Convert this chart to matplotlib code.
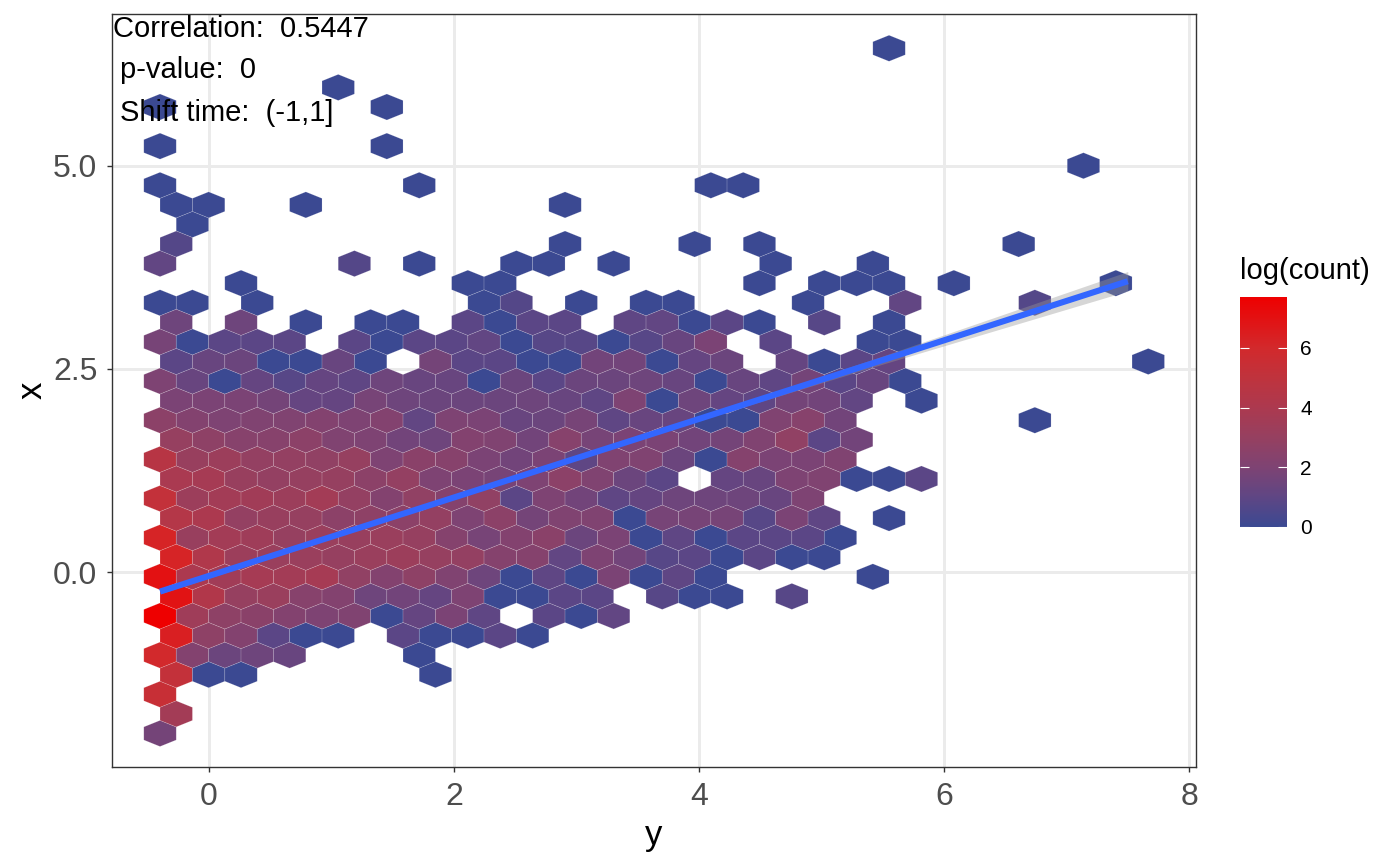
import numpy as np
import matplotlib
matplotlib.use("Agg")
import matplotlib.pyplot as plt
from matplotlib.colors import LinearSegmentedColormap, Normalize
from matplotlib.cm import ScalarMappable

plt.rcParams['font.family'] = ['Liberation Sans', 'DejaVu Sans']

_ = None
# log(count) per hexagon: one list per hex row from the bottom, one entry per hex column
log_count_rows = [
    [1.7],
    [3.6],
    [5.4],
    [5.2, 0, 0, _, _, _, _, _, 0],
    [6, 2.2, 1.4, 1.5, 1.3, _, _, _, 0],
    [6.4, 2.7, 2.2, .9, 0, 0, _, .9, 0, 0, .9, 0],
    [7.7, 3.4, 2.7, 2.5, 2.2, 2, 2.1, 0, 1.2, 1.9, 1, _, .9, 0, 1.1],
    [6.9, 4.3, 3, 3.2, 2.4, 2.2, 1.5, 1.6, 1.2, 2, 0, 0, .9, .9, _, .8, 0, 0, _, .8],
    [7, 4, 3.5, 3.7, 3.6, 3.7, 2.8, 2.2, 2.7, 2.1, 1.5, 0, 1, 0, 1.9, 0, 1, 0, _, _, _, _, 0],
    [6.2, 4.2, 3.3, 3.2, 3.2, 3, 3.2, 3.3, 3, 2.9, 2.3, 2.3, 1.1, 2, 1.6, .8, .9, 0, .9, 0, 0],
    [6.2, 3.1, 3.6, 3.4, 3, 3.2, 3.1, 3.2, 3, 2.3, 1.8, 2.2, 2.5, 1.4, 1.9, 0, 1, 0, .9, .9, .9, 0],
    [4.4, 4, 2.9, 3.1, 3, 2.6, 2.7, 2.6, 2.9, 2, 2.6, 1.7, 2.1, 2.1, 0, 1.8, 1.8, 1.8, .8, 1.9, 1, _, 0],
    [5.2, 3.3, 3.6, 3.5, 3.3, 3.6, 2.9, 2.2, 2.8, 2.3, 2.8, .9, 2, 1.6, 1, 1.2, 1.5, 1.5, 1.5, 1.3, 2],
    [3.9, 3.7, 3.1, 2.9, 3, 3, 2.6, 2.9, 2, 1.9, 1.8, 2, 2.6, 2.1, 1.4, .9, _, 1.2, 1.3, 2, 2.1, 0, 0, .9],
    [4.6, 3.1, 3.3, 2.9, 2.9, 2.8, 3, 2, 2.5, 2.4, 1.9, 1.6, 1.9, 1, 2.1, 2.1, 1.4, 0, 2.3, 1.9, 1.9, 2.1],
    [3, 2.7, 2.4, 2.4, 2.6, 2.1, 2, 1.6, 1.5, 2.2, 2.1, 1.6, 2.4, 1.8, 1.9, 1.9, 1.6, 1.7, 2.1, 2.8, .9, 1.6],
    [2.6, 2.2, 2, 2.1, 2.1, 2.2, 2, 2.2, 1.1, 2, 1.9, 1.3, 1.4, 1.8, 1, 1.3, 1.3, 0, 0, 2.1, 2.4, 1.6, _, _, _, _, _, 0],
    [1.9, 1.9, 1.9, 1.7, 1.2, 1.2, 1.8, 1.5, 1.4, 1.4, 1.4, 1.5, 1.3, 1, 2, 0, 1.5, 1.2, 1, 1.7, 1.6, 1.1, _, 0],
    [2, 1.3, 0, 1.2, .8, 1.2, 1, 1.5, 1.3, 1.3, 0, 1.4, .9, 1.4, 1.4, 1.5, 1.3, 0, 1.3, 1, 1.7, .9, 1.3, 0],
    [.9, 1.3, 1.4, 0, 0, 1.3, 0, _, 1.7, .9, .9, 0, 0, 1.6, 1.6, 0, 1.2, 1.4, _, 1.2, 0, .9, 1.2, _, _, _, _, _, _, _, 0],
    [1.8, 0, .9, .9, .9, _, .9, 0, .9, .9, 1.1, 0, .8, .8, 0, .8, 1.3, 1.9, _, .9, _, _, 0, 0],
    [1.5, _, 1.5, _, 0, _, 0, 0, _, .9, 0, .9, .9, _, 1, 1.1, 0, .9, 0, _, .8, _, 0],
    [0, 0, _, 0, _, _, _, _, _, _, 0, .7, _, 0, _, 0, 0, _, _, _, 0, _, _, 1.1, _, _, _, .7],
    [_, _, 0, _, _, _, _, _, _, 0, 0, _, _, _, _, _, _, _, 0, _, 0, 0, 0, _, 0, _, _, _, _, 0],
    [1.1, _, _, _, _, _, .7, _, 0, _, _, 0, 0, _, 0, _, _, _, _, 0, _, _, 0],
    [.7, _, _, _, _, _, _, _, _, _, _, _, 0, _, _, _, 0, _, 0, _, _, _, _, _, _, _, 0],
    [_, 0],
    [0, 0, _, _, 0, _, _, _, _, _, _, _, 0],
    [0, _, _, _, _, _, _, _, 0, _, _, _, _, _, _, _, _, 0, 0],
    [_, _, _, _, _, _, _, _, _, _, _, _, _, _, _, _, _, _, _, _, _, _, _, _, _, _, _, _, 0],
    [0, _, _, _, _, _, _, 0],
    [],
    [0, _, _, _, _, _, _, 0],
    [_, _, _, _, _, 0],
    [],
    [_, _, _, _, _, _, _, _, _, _, _, _, _, _, _, _, _, _, _, _, _, _, 0],
]

# bin geometry
first_x, first_y = -0.40, -1.987
col_step, row_step = 0.2645, 0.241

# fitted line and its confidence half-width
fit_x = [-0.40, 1.0, 2.5, 4.0, 5.5, 7.5]
fit_y = [-0.24, 0.435, 1.16, 1.885, 2.61, 3.58]
fit_se = [0.03, 0.02, 0.015, 0.02, 0.05, 0.12]

xticks = [0, 2, 4, 6, 8]
yticks = [0, 2.5, 5]
yticklabels = ['0.0', '2.5', '5.0']
cbar_ticks = [0, 2, 4, 6]
annotations = ['Correlation:  0.5447', 'p-value:  0', 'Shift time:  (-1,1]']

cmap = LinearSegmentedColormap.from_list('logcount', [
    (0 / 7.7, '#3B4992'), (1 / 7.7, '#5F4684'), (2 / 7.7, '#7E4373'),
    (3 / 7.7, '#964060'), (4 / 7.7, '#AC394F'), (5 / 7.7, '#BF333D'),
    (6 / 7.7, '#D2292C'), (1.0, '#EE0000')])
norm = Normalize(0, 7.7)

fig = plt.figure(figsize=(14, 8.65), dpi=100)
W, H = 1400, 865
ax = fig.add_axes([112 / W, 1 - 767 / H, (1196 - 112) / W, (767 - 14) / H])

hx, hy, hc = [], [], []
for r, row in enumerate(log_count_rows):
    for c, v in enumerate(row):
        if v is None:
            continue
        hx.append(first_x + col_step * (c + 0.5 * (r % 2)))
        hy.append(first_y + row_step * r)
        hc.append(v)

nx, ny = 32, 19
ax.hexbin(hx, hy, C=hc, gridsize=(nx, ny), reduce_C_function=np.mean,
          extent=(first_x, first_x + nx * col_step, first_y, first_y + ny * 2 * row_step),
          cmap=cmap, norm=norm, linewidths=0.4, edgecolors=(1, 1, 1, 0.25), zorder=2)

fit_x, fit_y, fit_se = map(np.array, (fit_x, fit_y, fit_se))
ax.fill_between(fit_x, fit_y - fit_se, fit_y + fit_se, color='#999999', alpha=0.4, lw=0, zorder=3)
ax.plot(fit_x, fit_y, color='#3366FF', lw=4.4, solid_capstyle='butt', zorder=4)

ax.set_xlim(-0.792, 8.057)
ax.set_ylim(-2.40, 6.87)
ax.set_xticks(xticks)
ax.set_yticks(yticks)
ax.set_yticklabels(yticklabels)
ax.grid(True, color='#EBEBEB', lw=2.1, zorder=0)
ax.set_axisbelow(True)
ax.tick_params(axis='both', labelsize=23, labelcolor='#4D4D4D', color='#333333',
               length=3.5, width=1.0, pad=7)
for s in ax.spines.values():
    s.set_color('#333333')
    s.set_linewidth(1.0)
ax.set_xlabel('y', fontsize=25, labelpad=5.5)
ax.set_ylabel('x', fontsize=25, labelpad=3)

for txt, tx, ty in zip(annotations, [-0.784, -0.725, -0.725], [6.69, 6.185, 5.655]):
    ax.text(tx, ty, txt, fontsize=21, color='black', ha='left', va='center',
            zorder=6, clip_on=False)

cax = fig.add_axes([1240 / W, 1 - 527 / H, 47 / W, 230 / H])
cb = fig.colorbar(ScalarMappable(norm=norm, cmap=cmap), cax=cax)
cb.outline.set_visible(False)
cb.set_ticks(cbar_ticks)
cax.tick_params(axis='y', direction='in', left=True, right=True, length=6.8,
                width=0.8, color='white', labelsize=15, pad=9.5, labelcolor='black')
fig.text(1240 / W, 1 - 271 / H, 'log(count)', fontsize=21, ha='left', va='center')

fig.savefig('out.png', dpi=100)
